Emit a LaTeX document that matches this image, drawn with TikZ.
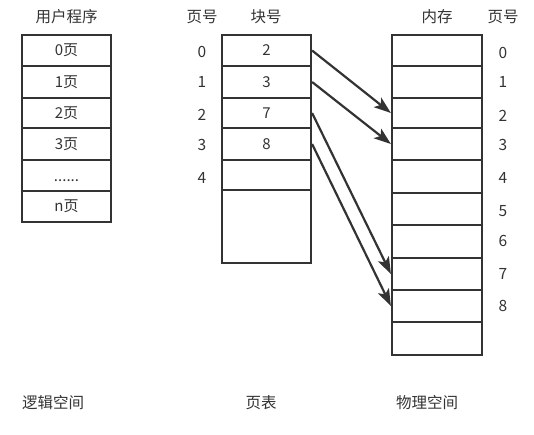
\documentclass[tikz,border=0pt]{standalone}
\usepackage{fontspec}
\setmainfont{Noto Sans CJK SC}
\usetikzlibrary{arrows.meta}
\definecolor{ink}{HTML}{333333}
\tikzset{
  cell/.style={draw=ink, line width=2.2pt, rectangle, inner sep=0pt, text=ink, font=\fontsize{15}{17}\selectfont},
  lw/.style={cell, minimum width=89pt},
  mw/.style={cell, minimum width=90pt},
  lbl/.style={text=ink, inner sep=0pt, font=\fontsize{15.5}{17}\selectfont},
  link/.style={draw=ink, line width=2.2pt, -{Stealth[length=17pt, width=12pt, inset=4pt]}, shorten >=0pt}
}
\begin{document}
\begin{tikzpicture}[x=1pt, y=-1pt]
\useasboundingbox (0,0) rectangle (534,434);
% titles
\node[lbl] (t1) at (66.5,17) {用户程序};
\node[lbl] (t2) at (202,17) {页号};
\node[lbl] (t3) at (266,17) {块号};
\node[lbl] (t4) at (437,17) {内存};
\node[lbl] (t5) at (503,17) {页号};
% logical space
\node[lw, minimum height=31pt] (L0) at (66.5,50.5) {0页};
\node[lw, minimum height=32pt] (L1) at (66.5,82) {1页};
\node[lw, minimum height=30pt] (L2) at (66.5,113) {2页};
\node[lw, minimum height=32pt] (L3) at (66.5,144) {3页};
\node[lw, minimum height=31pt] (L4) at (66.5,175.5) {\raisebox{-6pt}[0pt][0pt]{......}};
\node[lw, minimum height=31pt] (L5) at (66.5,206.5) {n页};
% page table
\node[lw, minimum height=31pt] (P0) at (266.5,50.5) {2};
\node[lw, minimum height=32pt] (P1) at (266.5,82) {3};
\node[lw, minimum height=30pt] (P2) at (266.5,113) {7};
\node[lw, minimum height=32pt] (P3) at (266.5,144) {8};
\node[lw, minimum height=30pt] (P4) at (266.5,175) {};
\node[lw, minimum height=73pt] (P5) at (266.5,226.5) {};
% page numbers left
\node[lbl] (n0) at (202,52) {0};
\node[lbl] (n1) at (202,82) {1};
\node[lbl] (n2) at (202,115) {2};
\node[lbl] (n3) at (202,145) {3};
\node[lbl] (n4) at (202,178) {4};
% memory
\node[mw, minimum height=31pt] (M0) at (437,50.5) {};
\node[mw, minimum height=32pt] (M1) at (437,82) {};
\node[mw, minimum height=30pt] (M2) at (437,113) {};
\node[mw, minimum height=32pt] (M3) at (437,144) {};
\node[mw, minimum height=33pt] (M4) at (437,176.5) {};
\node[mw, minimum height=32pt] (M5) at (437,209) {};
\node[mw, minimum height=33pt] (M6) at (437,241.5) {};
\node[mw, minimum height=32pt] (M7) at (437,274) {};
\node[mw, minimum height=32pt] (M8) at (437,306) {};
\node[mw, minimum height=33pt] (M9) at (437,338.5) {};
% page numbers right
\node[lbl] (r0) at (503,53) {0};
\node[lbl] (r1) at (503,82) {1};
\node[lbl] (r2) at (503,116) {2};
\node[lbl] (r3) at (503,145) {3};
\node[lbl] (r4) at (503,178) {4};
\node[lbl] (r5) at (503,211) {5};
\node[lbl] (r6) at (503,241) {6};
\node[lbl] (r7) at (503,274) {7};
\node[lbl] (r8) at (503,306) {8};
% arrows
\draw[link] (P0.east) -- (M2.west);
\draw[link] (P1.east) -- (M3.west);
\draw[link] (P2.east) -- (M7.west);
\draw[link] (P3.east) -- (M8.west);
% bottom labels
\node[lbl] (b1) at (53,403) {逻辑空间};
\node[lbl] (b2) at (261,403) {页表};
\node[lbl] (b3) at (427,403) {物理空间};
\end{tikzpicture}
\end{document}
